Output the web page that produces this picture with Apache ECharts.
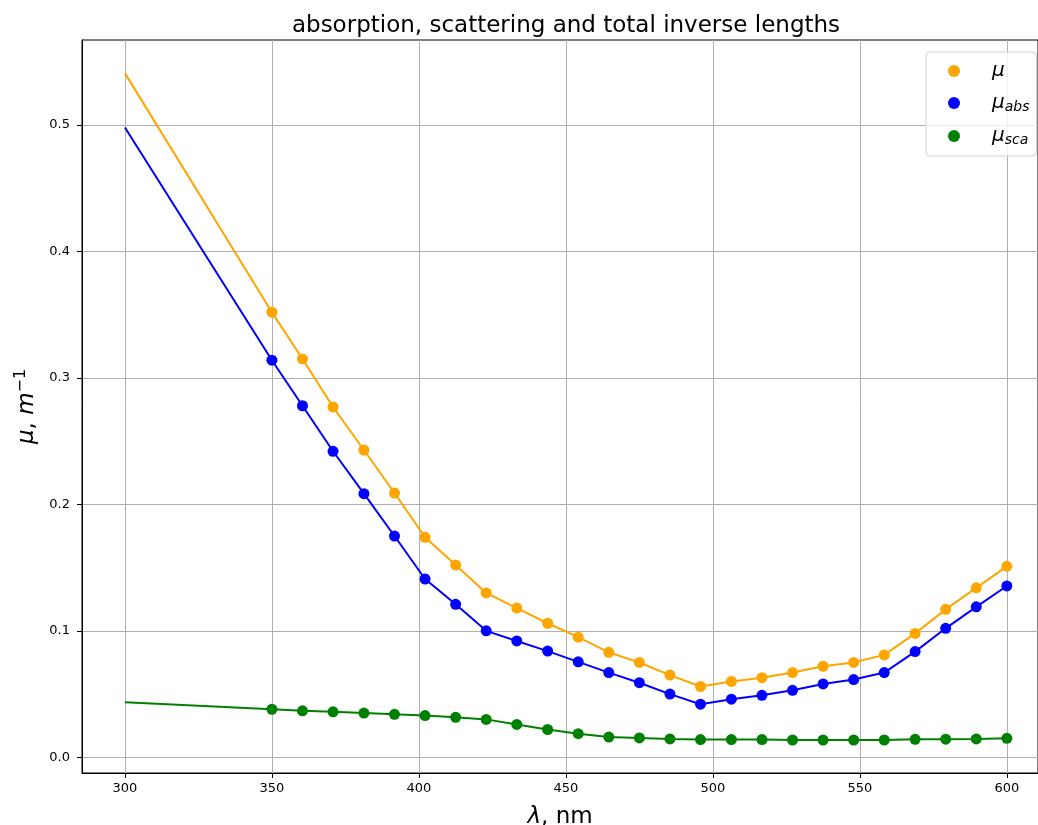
<!DOCTYPE html>
<html><head><meta charset="utf-8">
<script src="https://cdn.jsdelivr.net/npm/echarts@6/dist/echarts.min.js"></script>
<style>html,body{margin:0;padding:0;background:#fff}#c{width:1038px;height:825px}</style>
</head><body><div id="c"></div>
<script>
const titleText = 'absorption, scattering and total inverse lengths';
const startWavelength = 300;
const wavelengths = [350, 360.4, 370.8, 381.3, 391.7, 402.1, 412.5, 422.9, 433.3, 443.8, 454.2, 464.6, 475, 485.4, 495.8, 506.3, 516.7, 527.1, 537.5, 547.9, 558.3, 568.8, 579.2, 589.6, 600];
const muStart = 0.541;
const muAbsStart = 0.498;
const muScaStart = 0.0435;
const mu = [0.352, 0.315, 0.277, 0.243, 0.209, 0.174, 0.152, 0.130, 0.118, 0.106, 0.095, 0.083, 0.075, 0.065, 0.056, 0.060, 0.063, 0.067, 0.072, 0.075, 0.081, 0.098, 0.117, 0.134, 0.151];
const muAbs = [0.314, 0.278, 0.242, 0.2085, 0.175, 0.141, 0.121, 0.100, 0.092, 0.084, 0.0755, 0.067, 0.059, 0.050, 0.042, 0.046, 0.049, 0.053, 0.058, 0.0615, 0.067, 0.0836, 0.102, 0.119, 0.1355];
const muSca = [0.038, 0.0368, 0.036, 0.035, 0.034, 0.033, 0.0316, 0.030, 0.026, 0.022, 0.0187, 0.016, 0.0153, 0.0145, 0.014, 0.014, 0.014, 0.0137, 0.0137, 0.0137, 0.0137, 0.0142, 0.0143, 0.0145, 0.015];
const xTicks = [300, 350, 400, 450, 500, 550, 600];
const yTicks = [0, 0.1, 0.2, 0.3, 0.4, 0.5];
const seriesNames = ['μ', 'μ_abs', 'μ_sca'];
const colors = ['#FFA500', '#0000FF', '#008000'];

const FONT = 'DejaVu Sans';
function build(start, vals) {
  const d = [{ value: [startWavelength, start], symbol: 'none' }];
  wavelengths.forEach((w, i) => d.push([w, vals[i]]));
  return d;
}
const allData = [build(muStart, mu), build(muAbsStart, muAbs), build(muScaStart, muSca)];

const chart = echarts.init(document.getElementById('c'), null, { renderer: 'canvas' });
chart.setOption({
  animation: false,
  backgroundColor: '#fff',
  textStyle: { fontFamily: FONT },
  title: {
    text: titleText, left: 566, top: 15, textAlign: 'center', padding: 0,
    textStyle: { fontFamily: FONT, fontSize: 23, fontWeight: 'normal', color: '#000' }
  },
  grid: { left: 82, right: 0, top: 40, bottom: 52, show: true, borderColor: '#000', borderWidth: 1, outerBoundsMode: 'none', containLabel: false },
  legend: {
    orient: 'vertical', left: 926, top: 52,
    data: seriesNames,
    icon: 'circle', itemWidth: 12, itemHeight: 12, itemGap: 12,
    padding: [9, 7, 9, 22],
    backgroundColor: 'rgba(255,255,255,0.8)', borderColor: '#d0d0d0', borderWidth: 1, borderRadius: 4,
    formatter: function (n) {
      if (n === 'μ') return '{i|μ}';
      if (n === 'μ_abs') return '{i|μ}{s|abs}';
      return '{i|μ}{s|sca}';
    },
    textStyle: {
      padding: [0, 0, 0, 27],
      rich: {
        i: { fontFamily: FONT, fontSize: 20, fontStyle: 'italic', color: '#000', lineHeight: 22 },
        s: { fontFamily: FONT, fontSize: 14, fontStyle: 'italic', color: '#000', lineHeight: 14, verticalAlign: 'bottom' }
      }
    }
  },
  xAxis: {
    type: 'value', min: 285.4, max: 610.6,
    name: '{i|λ}{n|, nm}', nameLocation: 'middle', nameGap: 33,
    nameTextStyle: {
      rich: {
        i: { fontFamily: FONT, fontSize: 23, fontStyle: 'italic', color: '#000' },
        n: { fontFamily: FONT, fontSize: 23, color: '#000' }
      }
    },
    axisLine: { show: true, onZero: false, lineStyle: { color: '#000', width: 1 } },
    axisTick: { show: true, inside: false, length: 5, customValues: xTicks, lineStyle: { color: '#000' } },
    axisLabel: { customValues: xTicks, margin: 9, fontFamily: FONT, fontSize: 13, color: '#000', formatter: v => String(Math.round(v)) },
    splitLine: { show: true, lineStyle: { color: '#b0b0b0', width: 1 } }
  },
  yAxis: {
    type: 'value', min: -0.0124, max: 0.5672,
    name: '{i|μ}{n|, }{i|m}{p|−1}', nameLocation: 'middle', nameGap: 35, nameRotate: 90,
    nameTextStyle: {
      rich: {
        i: { fontFamily: FONT, fontSize: 23, fontStyle: 'italic', color: '#000', lineHeight: 28 },
        n: { fontFamily: FONT, fontSize: 23, color: '#000', lineHeight: 28 },
        p: { fontFamily: FONT, fontSize: 16, color: '#000', lineHeight: 16, verticalAlign: 'top' }
      }
    },
    axisLine: { show: true, onZero: false, lineStyle: { color: '#000', width: 1 } },
    axisTick: { show: true, inside: false, length: 5, customValues: yTicks, lineStyle: { color: '#000' } },
    axisLabel: { customValues: yTicks, margin: 12, fontFamily: FONT, fontSize: 13, color: '#000', formatter: v => v.toFixed(1) },
    splitLine: { show: true, lineStyle: { color: '#b0b0b0', width: 1 } }
  },
  series: seriesNames.map((n, k) => ({
    name: n, type: 'line', data: allData[k],
    symbol: 'circle', symbolSize: 11, showSymbol: true,
    lineStyle: { color: colors[k], width: 2 },
    itemStyle: { color: colors[k] },
    z: 3 + k
  }))
});
</script></body></html>
